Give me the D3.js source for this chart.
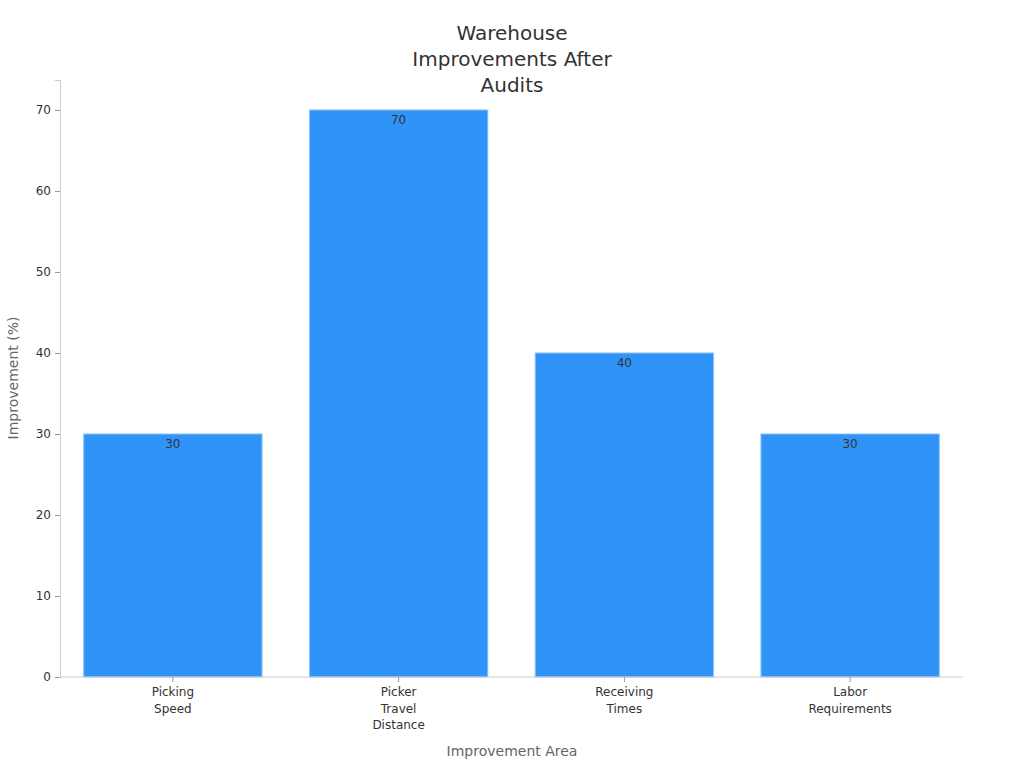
<!DOCTYPE html>
<html><head><meta charset="utf-8">
<script src="https://cdn.jsdelivr.net/npm/d3@7"></script>
<style>body{margin:0;background:#fff;font-family:"DejaVu Sans",sans-serif;}</style>
</head><body>
<svg id="c" width="1024" height="768"></svg>
<script>
const categories = [["Picking","Speed"],["Picker","Travel","Distance"],["Receiving","Times"],["Labor","Requirements"]];
const values = [30,70,40,30];
const yTicks = [0,10,20,30,40,50,60,70];
const titleLines = ["Warehouse","Improvements After","Audits"];

const svg = d3.select("#c");
const L=60,R=963,T=80,B=677;
const x = d3.scaleBand().domain(d3.range(values.length)).range([L,R]).paddingInner(0.21).paddingOuter(0.105);
const y = d3.scaleLinear().domain([0,73.7]).range([B,T]);

svg.selectAll("rect.bar").data(values).join("rect")
  .attr("x",(d,i)=>x(i)).attr("width",x.bandwidth())
  .attr("y",d=>y(d)).attr("height",d=>B-y(d))
  .attr("fill","#2f93f8").attr("stroke","#8cc4fb").attr("stroke-width",1);
svg.selectAll("text.val").data(values).join("text")
  .attr("x",(d,i)=>x(i)+x.bandwidth()/2).attr("y",d=>y(d)+14)
  .attr("text-anchor","middle").attr("font-size",12).attr("fill","#333").text(d=>d);

const ya = svg.append("g").attr("transform",`translate(${L},0)`)
  .call(d3.axisLeft(y).tickValues(yTicks).tickSize(5).tickPadding(4));
ya.select(".domain").attr("stroke","#ccc");
ya.selectAll(".tick line").attr("stroke","#999");
ya.selectAll("text").attr("font-size",12).attr("fill","#333").attr("font-family","DejaVu Sans");

svg.append("line").attr("x1",L).attr("x2",R).attr("y1",B).attr("y2",B).attr("stroke","#ccc");
categories.forEach((lines,i)=>{
  const cx = x(i)+x.bandwidth()/2;
  svg.append("line").attr("x1",cx).attr("x2",cx).attr("y1",B).attr("y2",B+5).attr("stroke","#999");
  const t = svg.append("text").attr("text-anchor","middle").attr("font-size",12).attr("fill","#333");
  lines.forEach((s,j)=>t.append("tspan").attr("x",cx).attr("y",696+j*16.5).text(s));
});

const tt = svg.append("text").attr("text-anchor","middle").attr("font-size",20).attr("fill","#333");
titleLines.forEach((s,j)=>tt.append("tspan").attr("x",512).attr("y",40+j*26).text(s));

svg.append("text").attr("x",512).attr("y",756).attr("text-anchor","middle").attr("font-size",14).attr("fill","#666").text("Improvement Area");
svg.append("text").attr("transform","translate(18,378) rotate(-90)").attr("text-anchor","middle").attr("font-size",14).attr("fill","#666").text("Improvement (%)");
</script>
</body></html>
